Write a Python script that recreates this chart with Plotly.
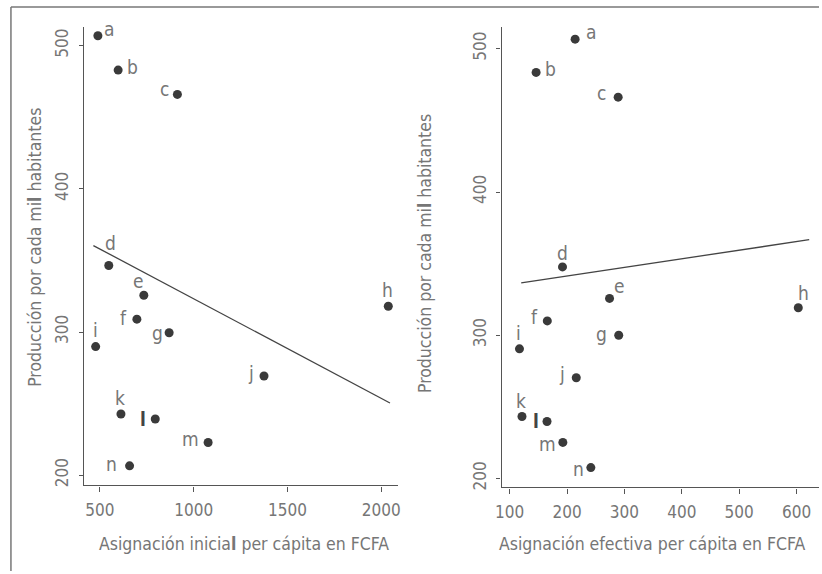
import plotly.graph_objects as go

# ---------------- data ----------------
labels = ["a", "b", "c", "d", "e", "f", "g", "h", "i", "j", "k", "l", "m", "n"]

inicial_x = [489, 597, 913, 547, 734, 697, 869, 2038, 477, 1375, 612, 795, 1077, 658]
inicial_y = [507, 483, 466, 346.5, 325.7, 309, 299.5, 318, 289.8, 269.3, 242.7, 239.2, 222.8, 206.5]

efectiva_x = [214, 146, 289, 192, 274, 165.5, 290, 603, 117, 216, 121.4, 165, 192.6, 241.4]
efectiva_y = [506.7, 483.5, 466.2, 347.7, 325.7, 310, 300, 319.2, 290.5, 270.3, 243.3, 239.8, 225.2, 207.6]

fit_inicial_x = [465, 2047]
fit_inicial_y = [360.4, 250.4]
fit_efectiva_x = [120, 622]
fit_efectiva_y = [336.6, 366.7]

y_ticks = [200, 300, 400, 500]
x_ticks_inicial = [500, 1000, 1500, 2000]
x_ticks_efectiva = [100, 200, 300, 400, 500, 600]

title_x_left = "Asignación inicia<b>l</b> per cápita en FCFA"
title_x_right = "Asignación efectiva per cápita en FCFA"
title_y = "Producción por cada mi<b>l</b> habitantes"

# ---------------- style ----------------
W, H = 822, 574
FONT = "DejaVu Sans Condensed, Liberation Sans Narrow, sans-serif"
TXT = "#767676"
AX = "#555555"
DOT = "#3a3a3a"

# label offsets (px) per point, relative to marker
off_left = [(11, 7), (14, 3), (-13, 5), (2, 22), (-5, 14), (-13, 1), (-12, 0),
            (-1, 16), (0, 17), (-13, 3), (-1, 16), (-12, 0), (-18, 4), (-18, 2)]
off_right = [(16, 7), (14, 3), (-17, 4), (0, 14), (10, 12), (-13, 4), (-17, 1),
             (5, 15), (-1, 16), (-14, 4), (-1, 15), (-11, 0), (-15, -2), (-12, -1)]

fig = go.Figure()

fig.add_trace(go.Scatter(x=fit_inicial_x, y=fit_inicial_y, mode="lines",
                         line=dict(color="#444444", width=1.3),
                         xaxis="x", yaxis="y", showlegend=False, hoverinfo="skip"))
fig.add_trace(go.Scatter(x=inicial_x, y=inicial_y, mode="markers",
                         marker=dict(color=DOT, size=9),
                         xaxis="x", yaxis="y", showlegend=False, text=labels))
fig.add_trace(go.Scatter(x=fit_efectiva_x, y=fit_efectiva_y, mode="lines",
                         line=dict(color="#444444", width=1.3),
                         xaxis="x2", yaxis="y2", showlegend=False, hoverinfo="skip"))
fig.add_trace(go.Scatter(x=efectiva_x, y=efectiva_y, mode="markers",
                         marker=dict(color=DOT, size=9),
                         xaxis="x2", yaxis="y2", showlegend=False, text=labels))


def label_text(lab):
    return "<b>l</b>" if lab == "l" else lab


def label_color(lab):
    return "#444444" if lab == "l" else TXT


annotations = []
for lab, xv, yv, (dx, dy) in zip(labels, inicial_x, inicial_y, off_left):
    annotations.append(dict(x=xv, y=yv, xref="x", yref="y", text=label_text(lab),
                            showarrow=False, xshift=dx, yshift=dy, xanchor="center", yanchor="middle",
                            font=dict(family=FONT, size=19, color=label_color(lab))))
for lab, xv, yv, (dx, dy) in zip(labels, efectiva_x, efectiva_y, off_right):
    annotations.append(dict(x=xv, y=yv, xref="x2", yref="y2", text=label_text(lab),
                            showarrow=False, xshift=dx, yshift=dy, xanchor="center", yanchor="middle",
                            font=dict(family=FONT, size=19, color=label_color(lab))))

# axis titles
tfont = dict(family=FONT, size=17.5, color=TXT)
annotations += [
    dict(x=240.5 / W, y=1 - 547 / H, xref="paper", yref="paper", text=title_x_left,
         showarrow=False, xanchor="center", yanchor="middle", font=tfont),
    dict(x=654 / W, y=1 - 547 / H, xref="paper", yref="paper", text=title_x_right,
         showarrow=False, xanchor="center", yanchor="middle", font=tfont),
    dict(x=30 / W, y=1 - 248.5 / H, xref="paper", yref="paper", text=title_y, textangle=-90,
         showarrow=False, xanchor="center", yanchor="middle", font=tfont),
    dict(x=423 / W, y=1 - 255 / H, xref="paper", yref="paper", text=title_y, textangle=-90,
         showarrow=False, xanchor="center", yanchor="middle", font=tfont),
]

axis_common = dict(showgrid=False, zeroline=False, showline=True, linecolor=AX, linewidth=1.3,
                   ticks="outside", tickcolor=AX, tickwidth=1,
                   tickfont=dict(family=FONT, size=17, color=TXT))

fig.update_layout(
    width=W, height=H,
    margin=dict(l=0, r=0, t=0, b=0),
    paper_bgcolor="white", plot_bgcolor="white",
    xaxis=dict(domain=[79 / W, 396 / W], range=[415.6, 2088], tickvals=x_ticks_inicial,
               anchor="y", ticklen=5, ticklabelstandoff=4, **axis_common),
    yaxis=dict(domain=[1 - 488 / H, 1 - 27 / H], range=[192.8, 513.2], tickvals=y_ticks,
               anchor="x", ticklen=4, tickangle=-90, ticklabelstandoff=4, **axis_common),
    xaxis2=dict(domain=[501 / W, 1.0], range=[85.7, 639.1], tickvals=x_ticks_efectiva,
                anchor="y2", ticklen=5, ticklabelstandoff=4, **axis_common),
    yaxis2=dict(domain=[1 - 490 / H, 1 - 27 / H], range=[193.75, 515.3], tickvals=y_ticks,
                anchor="x2", ticklen=4, tickangle=-90, ticklabelstandoff=4, **axis_common),
    annotations=annotations,
    shapes=[
        dict(type="line", xref="paper", yref="paper", x0=5 / W, x1=1, y0=1 - 7 / H, y1=1 - 7 / H,
             line=dict(color="#777777", width=1.5)),
        dict(type="line", xref="paper", yref="paper", x0=5 / W, x1=5 / W, y0=0, y1=1 - 7 / H,
             line=dict(color="#777777", width=1.5)),
    ],
)

fig.write_html("out.html", config={"displayModeBar": False},
               post_script="document.body.style.margin='0';document.body.style.overflow='hidden';")
